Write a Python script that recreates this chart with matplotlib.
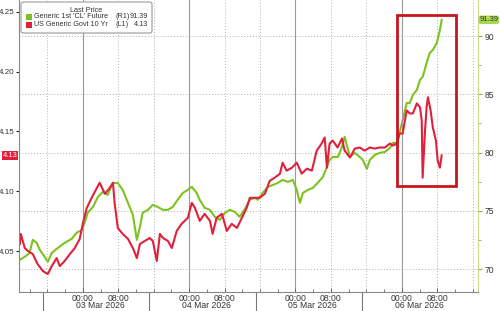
import pandas as pd
import matplotlib
matplotlib.use("Agg")
import matplotlib.pyplot as plt
import matplotlib.dates as mdates
from matplotlib import font_manager
from matplotlib.patches import Rectangle, FancyBboxPatch
from matplotlib.transforms import blended_transform_factory

# hours since 03 Mar 2026 00:00
oil_hours = [-14.2, -13.1, -12.0, -11.3, -10.4, -9.7, -8.6, -7.9, -7.0, -5.6, -4.1, -2.5, -1.4, -0.2,
             0.5, 1.1, 2.3, 3.4, 4.5, 5.6, 6.8, 7.9, 9.0, 10.2, 11.3, 12.2, 12.9, 13.5, 14.7, 15.8,
             16.9, 18.1, 19.2, 20.3, 21.4, 22.6, 23.7, 24.6, 25.7, 26.4, 27.5, 28.7, 29.8, 30.9,
             32.1, 33.2, 34.3, 35.4, 36.6, 37.7, 38.8, 39.5, 40.6, 41.8, 42.9, 44.0, 45.1, 46.3,
             47.4, 48.3, 49.0, 49.7, 50.8, 51.9, 53.0, 54.2, 55.1, 55.7, 56.4, 57.6, 58.5, 59.1,
             60.3, 61.4, 62.5, 63.2, 64.1, 64.8, 65.9, 67.0, 68.2, 69.3, 70.0, 70.9, 71.5, 72.2,
             73.1, 73.8, 74.5, 75.4, 76.1, 76.7, 77.6, 78.3, 79.0, 79.9, 80.6, 81.0]
oil_price = [70.79, 71.05, 71.39, 72.50, 72.25, 71.65, 71.05, 70.62, 71.39, 71.82, 72.25, 72.59, 73.11, 73.36,
             74.05, 74.82, 75.33, 76.19, 76.62, 76.36, 77.39, 77.39, 76.79, 75.68, 74.65, 72.50, 73.62, 74.82, 75.08, 75.51,
             75.33, 75.08, 75.08, 75.33, 75.94, 76.54, 76.79, 77.05, 76.54, 75.94, 75.25, 75.08, 74.48, 74.22,
             74.82, 75.08, 74.91, 74.48, 75.16, 75.94, 76.11, 75.94, 76.54, 77.05, 77.22, 77.39, 77.65, 77.48,
             77.65, 76.79, 75.68, 76.54, 76.79, 76.96, 77.39, 77.91, 78.77, 79.37, 79.62, 79.62, 80.48, 81.34,
             79.62, 79.97, 79.62, 79.37, 78.59, 79.37, 79.79, 79.97, 80.05, 80.39, 80.82, 80.82, 81.68, 82.80,
             84.25, 84.25, 84.94, 85.37, 86.23, 86.48, 87.68, 88.54, 88.80, 89.40, 90.51, 91.39]

yld_hours = [-14.2, -14.0, -13.1, -12.4, -11.3, -10.2, -9.0, -7.9, -7.0, -5.9, -5.2, -4.1, -2.9, -1.8, -0.7,
             0.0, 0.9, 2.0, 3.2, 3.8, 5.0, 6.1, 6.8, 7.2, 7.9, 9.0, 10.2, 11.3, 12.2, 12.9, 14.0, 15.1,
             15.8, 16.7, 17.4, 18.1, 19.2, 20.1, 21.2, 22.3, 23.0, 23.7, 24.6, 25.3, 26.4, 27.5, 28.7,
             29.3, 30.2, 31.4, 32.5, 33.6, 34.8, 35.9, 37.0, 37.7, 38.8, 39.9, 41.1, 42.2, 43.3, 44.5,
             45.1, 46.0, 47.2, 48.3, 49.4, 50.6, 51.7, 52.8, 53.9, 54.6, 55.1, 55.7, 56.4, 57.5, 58.5,
             59.1, 60.3, 61.4, 62.5, 63.6, 64.8, 65.9, 67.0, 68.2, 69.3, 70.0, 70.9, 71.5, 72.2, 73.1,
             73.8, 74.5, 75.4, 76.1, 76.5, 76.7, 77.2, 77.6, 77.9, 78.5, 79.0, 79.7, 80.1, 80.6, 81.0]
yld_value = [4.0559, 4.0643, 4.0525, 4.0500, 4.0475, 4.0391, 4.0332, 4.0307, 4.0374, 4.0441, 4.0374, 4.0416, 4.0475, 4.0525, 4.0601,
             4.0727, 4.0861, 4.0945, 4.1029, 4.1071, 4.0979, 4.1029, 4.1071, 4.0895, 4.0693, 4.0643, 4.0601, 4.0525, 4.0441, 4.0559, 4.0584, 4.0609,
             4.0584, 4.0416, 4.0643, 4.0609, 4.0584, 4.0525, 4.0668, 4.0727, 4.0752, 4.0777, 4.0903, 4.0861, 4.0752, 4.0811, 4.0752,
             4.0643, 4.0777, 4.0811, 4.0668, 4.0727, 4.0693, 4.0777, 4.0861, 4.0945, 4.0945, 4.0945, 4.0979, 4.1088, 4.1113, 4.1147,
             4.1239, 4.1172, 4.1197, 4.1239, 4.1147, 4.1189, 4.1172, 4.1340, 4.1399, 4.1450, 4.1197, 4.1399, 4.1424, 4.1366, 4.1441,
             4.1340, 4.1282, 4.1357, 4.1366, 4.1340, 4.1366, 4.1357, 4.1366, 4.1366, 4.1399, 4.1382, 4.1399, 4.1483, 4.1483, 4.1676,
             4.1651, 4.1651, 4.1735, 4.1702, 4.1592, 4.1113, 4.1483, 4.1702, 4.1786, 4.1676, 4.1534, 4.1424, 4.1256, 4.1197, 4.1300]

days = ["2026-03-03", "2026-03-04", "2026-03-05", "2026-03-06"]
left_ticks = [4.05, 4.10, 4.15, 4.20, 4.25]
right_ticks = [70, 75, 80, 85, 90]
oil_label = "Generic 1st 'CL' Future"
yld_label = "US Generic Govt 10 Yr"

GREEN = "#7dc21e"
RED = "#e0203c"
TXT = "#333333"

# narrow font if there is one, like the terminal font in the original
names = {f.name for f in font_manager.fontManager.ttflist}
narrow = "Liberation Sans Narrow" in names
plt.rcParams["font.family"] = ["Liberation Sans Narrow"] if narrow else ["Liberation Sans"]
k = 1.0 if narrow else 0.82
FS_LEG = 6.4 * k
FS_Y = 7.0 * k
FS_TAG = 6.6 * k
FS_X = 7.6 * k

base = pd.Timestamp(days[0])
oil_t = base + pd.to_timedelta(oil_hours, unit="h")
yld_t = base + pd.to_timedelta(yld_hours, unit="h")
day_t = pd.to_datetime(days)

fig = plt.figure(figsize=(5, 3.11), dpi=100)
ax = fig.add_axes([0.038, 0.0611, 0.918, 0.9389])
ax2 = ax.twinx()
ax.set_zorder(ax2.get_zorder() + 1)
ax.patch.set_visible(False)

ax2.plot(oil_t, oil_price, color=GREEN, lw=1.5)
ax.plot(yld_t, yld_value, color=RED, lw=1.5)

ax.set_xlim(base + pd.Timedelta(hours=-14.4), base + pd.Timedelta(hours=89.2))
ax.set_ylim(4.0157, 4.2600)
ax2.set_ylim(68.03, 93.09)

# y axes
ax.set_yticks(left_ticks)
ax.set_yticklabels([f"{v:.2f}" for v in left_ticks])
ax.tick_params(axis="y", direction="out", length=2.5, width=0.8, labelsize=FS_Y,
               pad=0.8, color="#222222", labelcolor=TXT)
ax2.set_yticks(right_ticks)
ax2.set_yticks([72.5, 77.5, 82.5, 87.5], minor=True)
ax2.tick_params(axis="y", which="major", direction="out", length=3, width=0.8,
                labelsize=FS_X, pad=2, color="#9aa84a", labelcolor=TXT)
ax2.tick_params(axis="y", which="minor", direction="out", length=2, width=0.6, color="#9aa84a")
ax2.yaxis.grid(True, linestyle=(0, (1, 2)), color="#b0b0b0", lw=0.7)

# x axis
ax.xaxis.set_major_locator(mdates.HourLocator(byhour=[0, 8]))
ax.xaxis.set_major_formatter(mdates.DateFormatter("%H:%M"))
ax.xaxis.set_minor_locator(mdates.HourLocator(byhour=range(0, 24, 4)))
ax.tick_params(axis="x", which="major", direction="in", length=3, width=0.7,
               labelsize=FS_X, pad=1.2, color="#666666", labelcolor=TXT)
ax.tick_params(axis="x", which="minor", direction="in", length=2, width=0.6, color="#666666")

# vertical grid: solid at midnight, dotted every 8h
for h in range(-8, 89, 8):
    t = base + pd.Timedelta(hours=h)
    if h % 24 == 0:
        ax.axvline(t, color="#9a9a9a", lw=0.8, zorder=0)
    else:
        ax.axvline(t, color="#b0b0b0", lw=0.7, ls=(0, (1, 2)), zorder=0)

blend = blended_transform_factory(ax.transData, ax.transAxes)
for d in day_t:
    sep = mdates.date2num(d - pd.Timedelta(hours=9))
    ax.plot([sep, sep], [0, -0.08], transform=blend, clip_on=False, color="#777777", lw=0.8)
    ax.annotate(d.strftime("%d %b %Y"), xy=(mdates.date2num(d), 0), xycoords=blend, xytext=(-7, -14),
                textcoords="offset pixels", ha="left", va="center", fontsize=FS_X, color=TXT,
                annotation_clip=False)

ax.spines["top"].set_visible(False)
ax2.spines["top"].set_visible(False)
ax.spines["right"].set_visible(False)
ax2.spines["left"].set_visible(False)
ax.spines["left"].set_color("#888888")
ax.spines["bottom"].set_color("#888888")
ax2.spines["bottom"].set_visible(False)
ax2.spines["right"].set_color("#cdd98a")

# last value tags
ax.annotate(f"{yld_value[-1]:.2f}", xy=(-0.004, yld_value[-1]), xycoords=("axes fraction", "data"),
            ha="right", va="center", fontsize=FS_TAG, color="white", annotation_clip=False,
            bbox=dict(boxstyle="square,pad=0.12", fc=RED, ec="none"))
ax2.annotate(f"{oil_price[-1]:.2f}", xy=(1.003, oil_price[-1]), xycoords=("axes fraction", "data"),
             ha="left", va="center", fontsize=FS_TAG, color=TXT, annotation_clip=False,
             bbox=dict(boxstyle="round,pad=0.1,rounding_size=0.3", fc="#a9d84e", ec="none"))

# highlight box
ax.add_patch(Rectangle((0.8235, 0.363), 0.1285, 0.586, transform=ax.transAxes, fill=False,
                       ec="#c8161e", lw=2.0, zorder=5, clip_on=False))

# legend
W, H = 500.0, 311.0
fig.add_artist(FancyBboxPatch((21 / W, 1 - 33 / H), 131 / W, 31 / H,
                              boxstyle="round,pad=0,rounding_size=0.006", transform=fig.transFigure,
                              fc="white", ec="#999999", lw=0.8, zorder=10))
fig.text(86 / W, 1 - 10 / H, "Last Price", ha="center", va="center", fontsize=FS_LEG, color=TXT, zorder=11)
rows = [(oil_label, "(R1)", f"{oil_price[-1]:.2f}", GREEN, 17),
        (yld_label, "(L1)", f"{yld_value[-1]:.2f}", RED, 25)]
for name, side, val, col, y in rows:
    fig.add_artist(Rectangle((26 / W, 1 - (y + 3) / H), 6 / W, 6 / H, transform=fig.transFigure,
                             fc=col, ec="none", zorder=11))
    fig.text(34 / W, 1 - y / H, name, ha="left", va="center", fontsize=FS_LEG, color=TXT, zorder=11)
    fig.text(115 / W, 1 - y / H, side, ha="left", va="center", fontsize=FS_LEG, color=TXT, zorder=11)
    fig.text(148 / W, 1 - y / H, val, ha="right", va="center", fontsize=FS_LEG, color=TXT, zorder=11)

fig.savefig("out.png", dpi=100, facecolor="white")
